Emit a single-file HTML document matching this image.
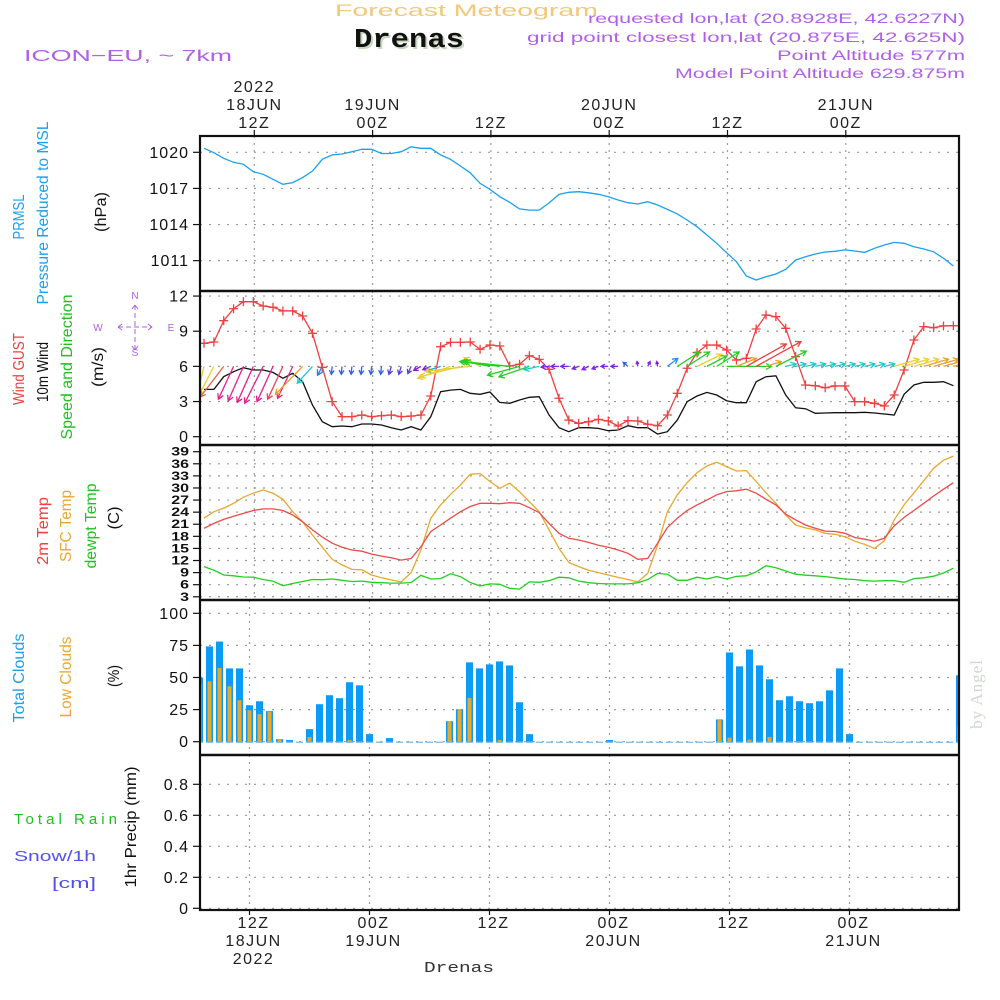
<!DOCTYPE html>
<html><head><meta charset="utf-8"><title>Forecast Meteogram - Drenas</title>
<style>
html,body{margin:0;padding:0;background:#fff;}
svg{display:block;font-family:"Liberation Sans",sans-serif;}
</style></head>
<body>
<svg id="chart" width="1000" height="1000" viewBox="0 0 1000 1000" xmlns="http://www.w3.org/2000/svg">
<defs><clipPath id="plotclip"><rect x="201" y="136" width="757" height="774"/></clipPath></defs>
<g id="hdr">
<text x="335" y="16" font-size="17" fill="#f2c87a" textLength="263" lengthAdjust="spacingAndGlyphs">Forecast Meteogram</text>
<text x="356" y="49" font-family="Liberation Mono, monospace" font-weight="bold" font-size="27" fill="#c8d8c0" textLength="110" lengthAdjust="spacingAndGlyphs">Drenas</text>
<text x="354" y="47" font-family="Liberation Mono, monospace" font-weight="bold" font-size="27" fill="#111" textLength="110" lengthAdjust="spacingAndGlyphs">Drenas</text>
<text x="24" y="61" font-size="16" fill="#b060e8" textLength="208" lengthAdjust="spacingAndGlyphs">ICON−EU, ~ 7km</text>
<g font-size="14" fill="#b060e8">
<text x="588" y="23" textLength="377" lengthAdjust="spacingAndGlyphs">requested lon,lat (20.8928E, 42.6227N)</text>
<text x="527" y="42" textLength="438" lengthAdjust="spacingAndGlyphs">grid point closest lon,lat (20.875E, 42.625N)</text>
<text x="777" y="60" textLength="188" lengthAdjust="spacingAndGlyphs">Point Altitude 577m</text>
<text x="675" y="78" textLength="290" lengthAdjust="spacingAndGlyphs">Model Point Altitude 629.875m</text>
</g>
</g>
<g id="grid"></g>
<g id="marks" clip-path="url(#plotclip)"></g>
<g id="frame"></g>
<g id="labels"></g>
</svg>
<script>
// ---------- DATA ----------
const hours = 77; // hourly from 18JUN 07Z
const pressure = [1020.33,1019.97,1019.5,1019.17,1019.0,1018.39,1018.17,1017.76,1017.34,1017.48,1017.9,1018.45,1019.42,1019.78,1019.86,1020.05,1020.25,1020.25,1019.9,1019.9,1020.05,1020.46,1020.33,1020.33,1019.78,1019.42,1018.86,1018.3,1017.42,1016.93,1016.31,1015.85,1015.3,1015.2,1015.2,1015.8,1016.5,1016.68,
1016.73,1016.64,1016.51,1016.31,1016.04,1015.81,1015.71,1015.9,1015.62,1015.26,1014.88,1014.38,1013.82,1013.13,1012.44,1011.66,1010.91,1009.73,1009.39,1009.67,1009.89,1010.28,1011.05,1011.33,1011.55,1011.72,1011.78,1011.89,1011.8,1011.69,1012.03,1012.3,1012.52,1012.44,1012.16,1011.97,1011.74,1011.2,1010.56];
const windGust = [7.97,8.08,9.9,10.92,11.52,11.52,11.15,11.04,10.73,10.73,10.3,8.82,5.92,2.99,1.71,1.71,1.85,1.71,1.79,1.85,1.71,1.76,1.85,3.47,7.68,8.05,8.05,8.08,7.46,7.82,7.74,6.03,6.18,6.91,6.6,5.75,3.28,1.42,
1.14,1.28,1.48,1.34,0.91,1.37,1.34,1.06,0.94,1.85,3.7,5.84,7.17,7.82,7.82,7.4,6.54,6.69,9.19,10.38,10.24,9.25,6.83,4.41,4.35,4.18,4.33,4.33,2.99,2.99,2.85,2.62,3.56,5.69,8.25,9.39,9.3,9.45,9.47];
const wind10m = [4.04,4.04,5.12,5.55,5.89,5.69,5.69,5.49,4.98,5.41,4.69,2.7,1.28,0.85,0.91,0.85,1.08,1.08,1.0,0.77,0.57,0.85,0.57,1.71,3.84,3.98,4.04,3.7,3.62,3.81,2.93,2.85,3.13,3.36,3.41,1.85,0.77,0.43,
0.77,0.77,0.71,0.51,0.57,0.94,0.77,0.77,0.23,0.43,1.42,2.99,3.47,3.78,3.56,3.07,2.9,2.9,4.69,5.12,5.2,3.56,2.47,2.39,2.0,2.02,2.05,2.05,2.05,2.08,2.02,1.94,1.85,3.62,4.41,4.64,4.64,4.69,4.35];
const windU = [-0.8,-1.8,-2.9,-1.9,-1.9,-2.0,-2.3,-2.0,-1.9,-1.9,-3.4,-1.9,-0.6,-0.1,-0.1,-0.1,-0.1,-0.1,-0.1,-0.3,-0.3,-0.4,-0.9,-1.0,-1.9,-4.1,-5.0,-5.6,-2.0,-3.1,-5.0,-5.9,-4.0,-3.8,-1.9,-1.0,-1.0,-1.0,-0.8,-0.8,-0.8,-0.9,-0.9,-0.6,-0.1,0.3,-0.1,1.3,2.8,2.8,3.1,2.5,2.8,5.6,2.5,5.0,5.6,1.9,3.8,1.3,1.3,1.3,1.3,1.3,1.3,1.3,1.3,1.3,1.3,1.3,3.1,3.1,3.1,3.1,3.1,3.1,3.1];
const windV = [-3.3,-3.5,-3.8,-4.1,-4.3,-4.5,-4.6,-4.4,-4.1,-4.0,-3.5,-2.1,-1.1,-1.0,-1.0,-1.0,-1.0,-1.0,-1.0,-1.0,-1.0,-0.9,-0.5,-0.4,-0.6,-1.5,-1.3,-0.6,1.1,0.6,0.6,0.6,-1.1,-1.3,-0.4,-0.1,0,0,-0.3,-0.4,-0.3,0,0,0.5,0.6,0.6,0.6,1.0,1.8,1.8,1.5,1.3,1.8,0,1.0,2.8,3.1,0.6,1.9,0.3,0.3,0.3,0.3,0.3,0.3,0.3,0.3,0.3,0.3,0.3,0.9,0.9,0.9,0.9,0.9,0.9,0.9];
const temp2m = [20.0,21.2,22.2,23.0,23.7,24.4,24.8,24.8,24.4,23.3,21.6,19.6,17.8,16.3,15.3,14.6,14.3,13.6,13.1,12.7,12.1,12.5,15.4,19.2,20.8,22.5,24.1,25.4,26.2,26.2,26.1,26.35,26.2,25.1,23.9,21.2,18.75,17.5,
17.1,16.5,15.8,15.3,14.6,13.8,12.3,12.5,16.3,20.2,22.5,24.4,25.8,27.0,28.3,29.1,29.3,29.7,28.7,27.2,25.8,23.5,22.1,20.8,20.0,19.3,19.2,18.75,17.7,17.3,16.8,17.5,20.6,22.7,24.4,26.2,28.0,29.7,31.3];
const tempSfc = [22.5,24.1,25.0,26.2,27.7,28.7,29.5,28.7,27.2,24.1,21.6,18.3,15.3,12.3,10.9,9.8,9.7,8.4,7.7,7.2,6.7,9.0,14.6,22.5,25.8,28.4,30.7,33.4,33.6,31.6,29.9,31.2,29.1,26.6,24.1,19.6,15.0,11.5,
10.5,9.6,9.0,8.4,7.8,7.3,6.7,8.8,15.8,24.1,28.3,31.3,33.8,35.45,36.4,35.3,34.2,34.3,31.6,28.8,26.2,23.3,20.8,20.1,19.6,18.75,18.5,17.9,16.8,16.0,15.0,16.9,22.1,25.8,28.8,31.8,34.9,36.9,37.9];
const tempDew = [10.5,9.6,8.4,8.2,7.9,7.85,7.3,6.9,5.75,6.3,6.8,7.3,7.25,7.4,7.1,6.8,6.9,6.6,6.5,6.4,6.4,6.55,8.3,7.4,7.5,8.7,8.0,6.55,5.7,6.2,6.1,5.1,4.9,6.7,6.6,7.0,7.85,7.7,
6.9,6.5,6.3,6.2,6.2,6.2,6.5,7.3,8.8,8.6,7.1,7.1,7.85,7.4,8.0,7.4,8.05,8.2,9.2,10.7,10.2,9.4,8.6,8.35,8.2,8.0,7.7,7.4,7.3,7.0,6.9,7.0,7.0,6.6,7.5,7.7,8.1,8.9,10.1];
const cloudTotal = [49.9,74.2,78,57.1,57.1,28.4,31.5,23.8,2,1.3,0,9.8,29.2,36.2,33.9,46.3,43.9,5.9,0,2.8,0,0,0,0,0,16,25.3,61.8,57.1,60.2,62.5,59.4,30.7,5.9,0,0,0,0,0,0,0,1.3,0,0,0,0,0,0,0,0,0,0,17.3,69.5,58.7,71.8,59.4,48.6,32.3,35.4,31.5,30,31.5,40,57.1,5.9,0,0,0,0,0,0,0,0,0,0,51.7];
const cloudLow = [44.7,47,57.4,43.2,32.3,24.5,21.4,23.3,1.8,0,0,3.6,0,0,0,1.3,0,0,0,0,0,0,0,0,0,16,25.3,34.1,0,0,1.3,0,0,0,0,0,0,0,0,0,0,0,0,0,0,0,0,0,0,0,0,0,16.8,3.1,0,1.6,0,3.6,0,0,0,0,0,0,0,0,0,0,0,0,0,0,0,0,0,0,12.1];
const precip = new Array(77).fill(0);
const pressTicks = [1011,1014,1017,1020];
const windTicks = [0,3,6,9,12];
const tempTicks = [3,6,9,12,15,18,21,24,27,30,33,36,39];
const cloudTicks = [0,25,50,75,100];
const precipTicks = [0,0.2,0.4,0.6,0.8];
const precipTickLabels = ["0","0.2","0.4","0.6","0.8"];
const topTimeLabels = [["2022","18JUN","12Z"],["","19JUN","00Z"],["","","12Z"],["","20JUN","00Z"],["","","12Z"],["","21JUN","00Z"]];
const bottomTimeLabels = [["12Z","18JUN","2022"],["00Z","19JUN",""],["12Z","",""],["00Z","20JUN",""],["12Z","",""],["00Z","21JUN",""]];
const arrowColor = ['#e8d030','#e8d030','#f06040','#e8208a','#e8208a','#e8208a','#e8208a','#e8208a','#f04060','#e8208a','#e8a030','#20c8c8','#2080f0','#3060f0','#3060f0','#3060f0','#3060f0','#3060f0','#3060f0','#5040e0','#5040e0','#5040e0','#8020e0','#8020e0','#20a0f0','#e8d030','#e8d030','#e8d030','#e8d030','#20d020','#20d020','#20d020','#20d020','#20d020','#20c8c8','#8020e0','#8020e0','#8020e0','#8020e0','#8020e0','#8020e0','#8020e0','#8020e0','#3060f0','#8020e0','#8020e0','#8020e0','#2090f0','#20d020','#20d020','#e8d030','#20d020','#20d020','#20d020','#e8a030','#f04040','#f04040','#e8a030','#20d020','#20c8c8','#20c8c8','#20c8c8','#20c8c8','#20c8c8','#20c8c8','#20c8c8','#20c8c8','#20c8c8','#20c8c8','#20c8c8','#e8d030','#e8d030','#e8d030','#e8a030','#e8a030','#e8a030','#e8a030'];

// ---------- AXES ----------
const X0=200, X1=959;
const xT = i => 204 + 9.86*i;
const xC = j => 199.5 + 10*j;
const gridT = k => 254.3 + 118.3*k;
const gridC = k => 249.5 + 120*k;
const P = {p:[136,291],w:[291,445],t:[445,600],c:[600,755],r:[755,910]};
const yP = v => 152.3 + (1020-v)*12.04;
const yW = v => 436.7 - v*11.72;
const yT = v => 451.7 + (39-v)*4.03;
const yCl = v => 741.7 - v*1.284;
const yR = v => 908.3 - v*155;
const NS='http://www.w3.org/2000/svg';
function el(tag, attrs, parent, txt){const e=document.createElementNS(NS,tag);for(const k in attrs)e.setAttribute(k,attrs[k]);if(txt!==undefined)e.textContent=txt;parent.appendChild(e);return e;}
const gGrid=document.getElementById('grid'), gMarks=document.getElementById('marks'), gFrame=document.getElementById('frame'), gLab=document.getElementById('labels');

function hgrid(ticks, yf, name){ticks.forEach(t=>{const l=el('line',{x1:X0,x2:X1,y1:yf(t),y2:yf(t),stroke:'#9a9a9a','stroke-width':1.2,'stroke-dasharray':'2 7'},gGrid);

});}
hgrid(pressTicks,yP,'pressure');hgrid(windTicks,yW,'wind');hgrid(tempTicks,yT,'temp');hgrid(cloudTicks,yCl,'cloud');hgrid(precipTicks,yR,'precip');
for(let k=0;k<6;k++){
  ['p','w','t'].forEach(p=>{const l=el('line',{x1:gridT(k),x2:gridT(k),y1:P[p][0],y2:P[p][1],stroke:'#9a9a9a','stroke-width':1.2,'stroke-dasharray':'2 5'},gGrid);
  
  });
  ['c','r'].forEach(p=>{const l=el('line',{x1:gridC(k),x2:gridC(k),y1:P[p][0],y2:P[p][1],stroke:'#9a9a9a','stroke-width':1.2,'stroke-dasharray':'2 5'},gGrid);
  
  });
}

function polyline(vals, yf, color, name, w){const pts=vals.map((v,i)=>xT(i).toFixed(1)+','+yf(v).toFixed(1)).join(' ');
const l=el('polyline',{points:pts,fill:'none',stroke:color,'stroke-width':w||1.3},gMarks);

}
polyline(pressure,yP,'#1aa0f0','pressure-line');
polyline(wind10m,yW,'#111','wind-10m-line');
polyline(windGust,yW,'#f04040','wind-gust-line');
windGust.forEach((v,i)=>{const x=xT(i),y=yW(v);const m=el('path',{d:`M${x-4.5},${y}H${x+4.5}M${x},${y-4.5}V${y+4.5}`,stroke:'#f04040','stroke-width':1.3},gMarks);

});
const AK=8;
windU.forEach((u,i)=>{const x0=xT(i),y0=yW(6);const x1=x0+u*AK,y1=y0-windV[i]*AK;const c=arrowColor[i];
const len=Math.hypot(x1-x0,y1-y0)||1;const ux=(x1-x0)/len,uy=(y1-y0)/len;const h=Math.min(6,len*0.6);
const a1x=x1-h*(ux*0.87-uy*0.5),a1y=y1-h*(uy*0.87+ux*0.5),a2x=x1-h*(ux*0.87+uy*0.5),a2y=y1-h*(uy*0.87-ux*0.5);
const a=el('path',{d:`M${x0},${y0}L${x1},${y1}M${a1x},${a1y}L${x1},${y1}L${a2x},${a2y}`,stroke:c,'stroke-width':1.3,fill:'none'},gMarks);

});
polyline(tempSfc,yT,'#e8a830','sfc-temp-line');
polyline(temp2m,yT,'#f04848','temp-2m-line');
polyline(tempDew,yT,'#20d020','dewpoint-line');
cloudTotal.forEach((v,j)=>{const x=xC(j);
const b=el('rect',{x:x-3.5,y:yCl(v),width:7,height:Math.max(yCl(0)-yCl(v),0.01),fill:'#0a9cf5'},gMarks);


const lv=cloudLow[j];
const o=el('rect',{x:x-2,y:yCl(lv),width:4,height:Math.max(yCl(0)-yCl(lv),0.01),fill:'#e8a830'},gMarks);


const z=el('line',{x1:x-3.5,x2:x+3.5,y1:yCl(0)+0.5,y2:yCl(0)+0.5,stroke:'#5aa8e0','stroke-width':1},gMarks);

});
precip.forEach((v,j)=>{if(v>0){const b=el('rect',{x:xC(j)-3.5,y:yR(v),width:7,height:yR(0)-yR(v),fill:'#20d020'},gMarks);

}});

const fr=el('rect',{x:X0,y:136,width:X1-X0,height:910-136,fill:'none',stroke:'#111','stroke-width':2.2},gFrame);


[291,445,600,755].forEach(y=>{const l=el('line',{x1:X0,x2:X1,y1:y,y2:y,stroke:'#111','stroke-width':2.5},gFrame);

});
function yLabels(ticks, yf, labels, name){ticks.forEach((t,k)=>{const y=yf(t);
const tk=el('line',{x1:193,x2:X0,y1:y,y2:y,stroke:'#111','stroke-width':1.2},gFrame);


const tx=el('text',{x:189,y:y+5.5,'text-anchor':'end','font-size':16,fill:'#111','letter-spacing':1},gLab,labels?labels[k]:String(t));

});}
yLabels(pressTicks,yP,null,'pressure');
yLabels(windTicks,yW,null,'wind');
tempTicks.forEach(t=>{const y=yT(t);
const tk=el('line',{x1:193,x2:X0,y1:y,y2:y,stroke:'#111','stroke-width':1.2},gFrame);


const tx=el('text',{x:0,y:0,'text-anchor':'end','font-size':16,'font-weight':'bold',fill:'#111',transform:`translate(189,${y+4}) scale(1,0.72)`},gLab,String(t));

});
yLabels(cloudTicks,yCl,null,'cloud');
yLabels(precipTicks,yR,precipTickLabels,'precip');
topTimeLabels.forEach((arr,k)=>{const x=gridT(k);
const tk=el('line',{x1:x,x2:x,y1:130,y2:136,stroke:'#111','stroke-width':1.2},gFrame);


arr.forEach((s,r)=>{if(!s)return;const t=el('text',{x:x,y:92+r*18,'text-anchor':'middle','font-size':16,fill:'#222','letter-spacing':1.5},gLab,s);

});});
bottomTimeLabels.forEach((arr,k)=>{const x=gridC(k)+4;
const tk=el('line',{x1:gridC(k),x2:gridC(k),y1:910,y2:915,stroke:'#111','stroke-width':1.2},gFrame);


arr.forEach((s,r)=>{if(!s)return;const t=el('text',{x:x,y:928+r*18,'text-anchor':'middle','font-size':16,fill:'#222','letter-spacing':1.5},gLab,s);

});});

function vtext(x,y,s,color,name,len){const t=el('text',{x:0,y:0,transform:`translate(${x},${y}) rotate(-90)`,'text-anchor':'middle','font-size':16,fill:color,textLength:len,lengthAdjust:'spacingAndGlyphs'},gLab,s);

}
vtext(24,217,'PRMSL','#1aa0f0','prmsl-title',45);
vtext(48,213,'Pressure Reduced to MSL','#1aa0f0','pressure-title',183);
vtext(106,212,'(hPa)','#111','pressure-unit',40);
vtext(24,369,'Wind GUST','#f04040','wind-gust-title',72);
vtext(48,372,'10m Wind','#111','wind-10m-title',60);
vtext(72,367,'Speed and Direction','#20c020','wind-direction-title',145);
vtext(103,367,'(m/s)','#111','wind-unit',40);
vtext(48,531,'2m Temp','#f04040','temp-2m-title',68);
vtext(71,526,'SFC Temp','#e8a830','sfc-temp-title',72);
vtext(96,526,'dewpt Temp','#20c020','dewpoint-title',85);
vtext(119,518,'(C)','#111','temp-unit',23);
vtext(24,678,'Total Clouds','#1aa0f0','total-clouds-title',89);
vtext(71,677,'Low Clouds','#e8a830','low-clouds-title',81);
vtext(119,676,'(%)','#111','cloud-unit',22);
vtext(136,827,'1hr Precip (mm)','#111','precip-title',121);
const tr=el('text',{x:14,y:824,'font-size':15,fill:'#20c020',textLength:103,lengthAdjust:'spacing','xml:space':'preserve'},gLab,'Total   Rain');


const sn=el('text',{x:14,y:861,'font-size':15,fill:'#5050f0',textLength:82,lengthAdjust:'spacingAndGlyphs'},gLab,'Snow/1h');


const cm=el('text',{x:52,y:888,'font-size':15,fill:'#5050f0',textLength:44,lengthAdjust:'spacingAndGlyphs'},gLab,'[cm]');


const cg=el('g',{fill:'#b060e8','font-size':10,'text-anchor':'middle'},gLab);


[['N',135,299],['S',135,356],['W',98,331],['E',171,331]].forEach(a=>{const t=el('text',{x:a[1],y:a[2]},cg,a[0]);

});
const cp=el('path',{d:'M118,327H152M135,305V350M118,327l4,-3M118,327l4,3M152,327l-4,-3M152,327l-4,3M135,305l-3,4M135,305l3,4M135,350l-3,-4M135,350l3,-4',stroke:'#b060e8','stroke-width':1,'stroke-dasharray':'5 3',fill:'none'},cg);


const ft=el('text',{x:424,y:972,'font-family':'Liberation Mono, monospace','font-size':15,fill:'#333',textLength:70,lengthAdjust:'spacingAndGlyphs'},gLab,'Drenas');


const wm=el('text',{x:0,y:0,transform:'translate(982,694) rotate(-90)','text-anchor':'middle','font-family':'Liberation Serif, serif','font-size':17,fill:'#d0d8d0','letter-spacing':1},gLab,'by Angel');


</script>
</body></html>
